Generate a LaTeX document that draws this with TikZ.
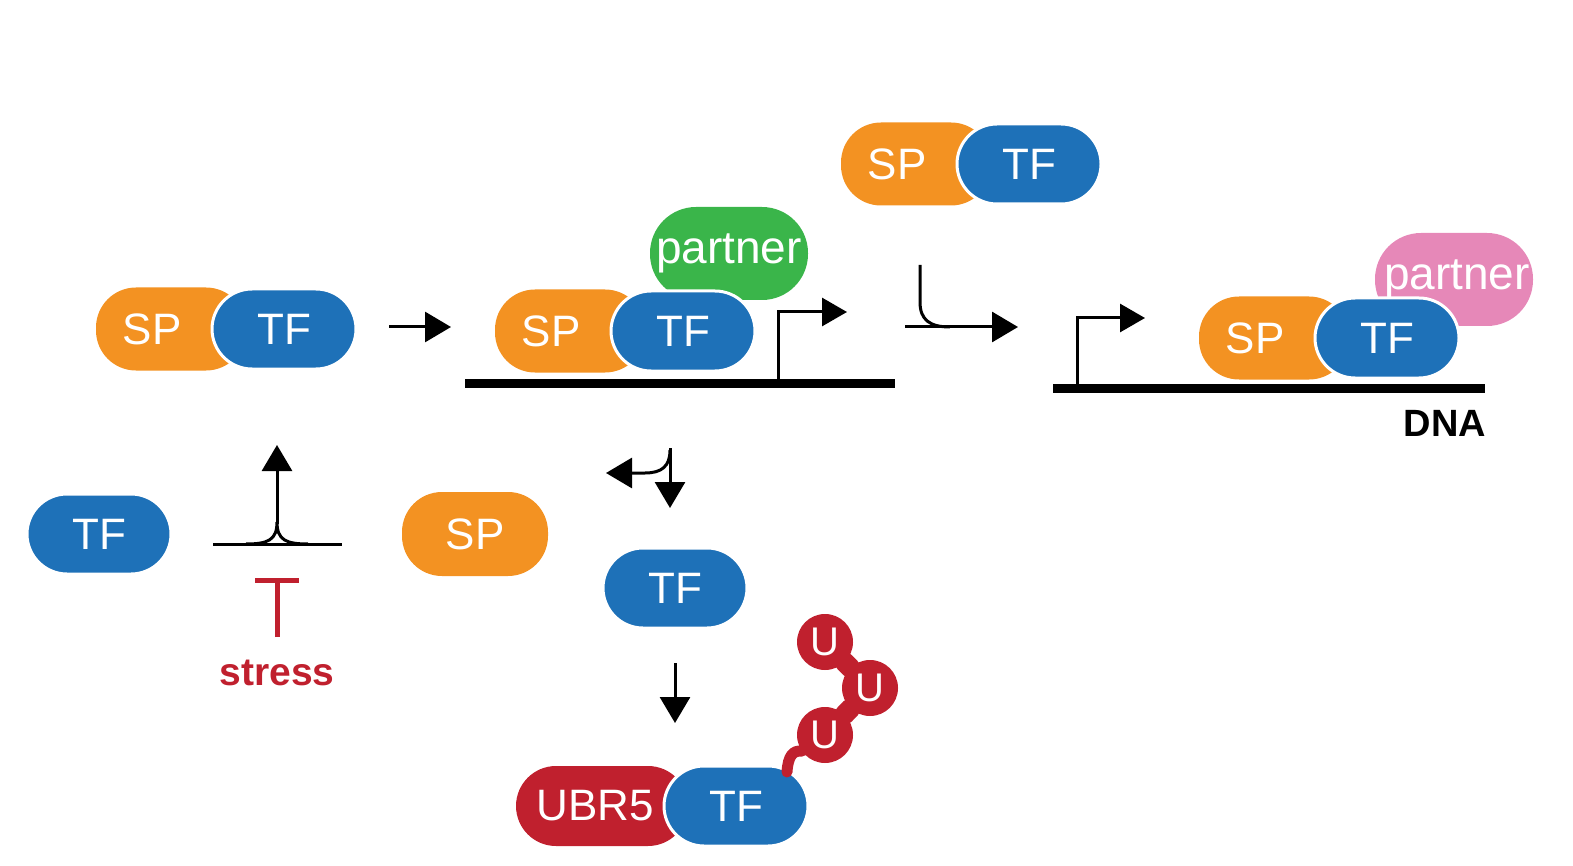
\documentclass[tikz,border=0pt]{standalone}
\usepackage{fontspec}
\setmainfont{Liberation Sans}
\usetikzlibrary{arrows.meta,positioning}
\definecolor{sporange}{RGB}{243,146,34}
\definecolor{tfblue}{RGB}{30,113,184}
\definecolor{ptgreen}{RGB}{58,181,74}
\definecolor{ptpink}{RGB}{230,136,184}
\definecolor{ubred}{RGB}{192,32,46}
\begin{document}
\begin{tikzpicture}[x=1pt,y=-1pt,
    pill/.style={rounded corners=40pt, minimum height=80pt, inner sep=0pt, outer sep=0pt,
                 text=white, font=\fontsize{44}{48}\selectfont},
    tf/.style={pill, fill=tfblue, draw=white, line width=3pt, minimum width=144pt},
    sp/.style={pill, fill=sporange, minimum width=150pt, minimum height=83pt},
    partner/.style={pill, rounded corners=46pt, minimum width=158pt, minimum height=93pt,
                    font=\fontsize{46}{50}\selectfont},
    ubr/.style={pill, fill=ubred, minimum width=172pt},
    ub/.style={circle, fill=ubred, minimum size=56pt, inner sep=0pt, text=white,
               font=\fontsize{40}{44}\selectfont},
    line/.style={black, line width=3pt},
    arr/.style={line, -{Triangle[length=26pt,width=30pt]}},
    dna/.style={black, line width=9pt}]
    \useasboundingbox (0,0) rectangle (1573,866);

    % free SP-TF complex
    \node[sp, anchor=west] (sp1) at (96,329) {SP\kern38pt};
    \node[tf, right=-34pt of sp1] (tf1) {TF};
    \draw[arr] ([xshift=33pt,yshift=2pt]tf1.east) -- ++(62,0);

    % bound to DNA with green partner
    \draw[dna] (465,383) -- (895,383);
    \node[partner, fill=ptgreen, anchor=south west] (pt2) at (650,300) {partner};
    \node[sp, anchor=west] (sp2) at (495,331) {SP\kern38pt};
    \node[tf, right=-34pt of sp2] (tf2) {TF};
    \draw[line, -{Triangle[length=25pt,width=28pt]}] (778,380) |- (847,312);

    % released complex
    \node[sp, anchor=west] (sp3) at (841,164) {SP\kern38pt};
    \node[tf, right=-34pt of sp3] (tf3) {TF};
    \draw[line] (920,265) -- (920,302) .. controls (920,320) and (930,327) .. (950,327);
    \draw[arr] (905,327) -- (1018,327);

    % new site with pink partner
    \draw[dna] (1053,388) -- (1485,388);
    \draw[line, -{Triangle[length=25pt,width=28pt]}] (1077,385) |- (1145,318);
    \node[partner, fill=ptpink, anchor=south west] (pt4) at (1375,326) {\kern6pt partner};
    \node[sp, anchor=west] (sp4) at (1199,338) {SP\kern38pt};
    \node[tf, right=-34pt of sp4] (tf4) {TF};
    \node[font=\fontsize{38}{42}\selectfont\bfseries] (dna) at (1445,423) {DNA};

    % stress splits the complex
    \node[tf] (tf5) at (99,534) {TF};
    \node[sp, minimum width=146pt, minimum height=84pt] (sp5) at (475,534) {SP};
    \draw[line] (213,544) -- (342,544);
    \draw[line] (246,544) .. controls (268,544) and (277,540) .. (277,522)
                .. controls (277,540) and (286,544) .. (308,544);
    \draw[arr] (277,524) -- (277,445);
    \draw[ubred, line width=5pt] (277,637) -- (277,580);
    \draw[ubred, line width=5pt] (255,580) -- (299,580);
    \node[text=ubred, font=\fontsize{39}{42}\selectfont\bfseries] (stress) at (277,673) {stress};

    % TF leaves DNA and is tagged
    \draw[arr] (670,448) -- (670,508);
    \draw[arr] (670,450) .. controls (670,466) and (662,473) .. (645,473) -- (606,473);
    \node[tf] (tf6) at (675,588) {TF};
    \draw[arr] ([yshift=-35pt]tf6.south) -- ++(0,60);
    \node[ubr, anchor=west] (ubr) at (516,806) {UBR5\kern14pt};
    \node[tf, right=-24pt of ubr] (tf7) {TF};
    \foreach \n/\p in {1/{(825,642)},2/{(870,688)},3/{(825,735)}}
        \node[ub] (u\n) at \p {U};
    \draw[ubred, line width=20pt, line cap=round] (u1) -- (u2);
    \draw[ubred, line width=20pt, line cap=round] (u2) -- (u3);
    \draw[ubred, line width=11pt, line cap=round] (787,772) .. controls (788,756) and (793,750) .. (u3.215);
\end{tikzpicture}
\end{document}
